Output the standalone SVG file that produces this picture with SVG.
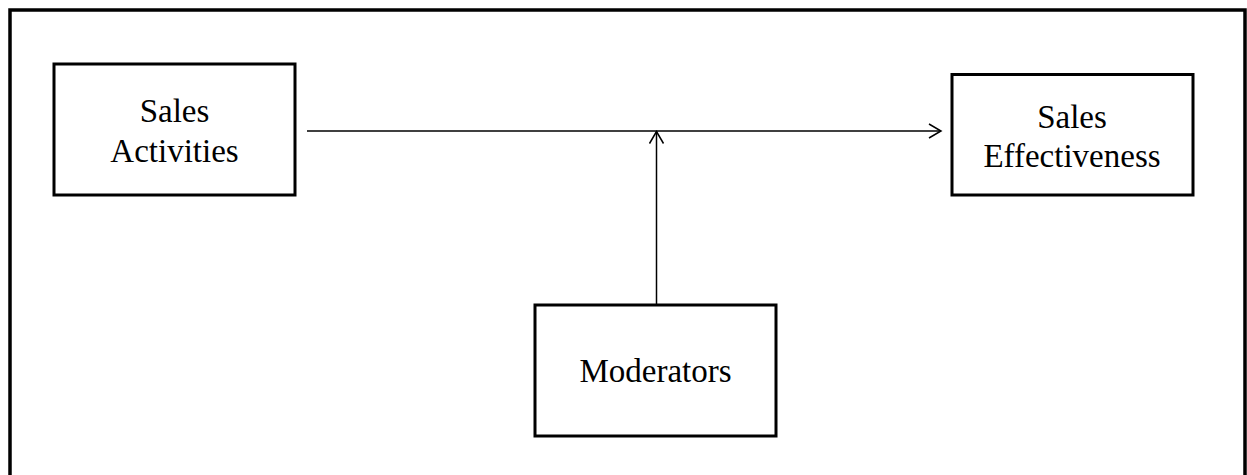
<svg xmlns="http://www.w3.org/2000/svg" width="1247" height="475" viewBox="0 0 1247 475">
<style>
.box{fill:#fff;stroke:#000;stroke-width:3}
.lbl{font-family:"Liberation Serif","Times New Roman",serif;font-size:33px;fill:#000;text-anchor:middle}
.conn{stroke:#000;stroke-width:1.5;fill:none}
</style>
<defs>
<marker id="arr" markerWidth="16" markerHeight="16" refX="13" refY="8" orient="auto" markerUnits="userSpaceOnUse">
<path d="M1,1 L13,8 L1,15" fill="none" stroke="#000" stroke-width="1.5"/>
</marker>
</defs>
<rect width="1247" height="475" fill="#fff"/>
<path d="M10,480 L10,10 L1245,10 L1245,480" fill="none" stroke="#000" stroke-width="3.5"/>
<g id="connectors">
<line class="conn" x1="307" y1="131" x2="941" y2="131" marker-end="url(#arr)"/>
<line class="conn" x1="656.5" y1="305" x2="656.5" y2="131.5" marker-end="url(#arr)"/>
</g>
<g id="sales-activities">
<rect class="box" x="54" y="64" width="241" height="131"/>
<text class="lbl" x="174.5" y="122">Sales</text>
<text class="lbl" x="174.5" y="162">Activities</text>
</g>
<g id="sales-effectiveness">
<rect class="box" x="952" y="74.5" width="241" height="120.5"/>
<text class="lbl" x="1072" y="128">Sales</text>
<text class="lbl" x="1072" y="166.5">Effectiveness</text>
</g>
<g id="moderators">
<rect class="box" x="535" y="305" width="241" height="131"/>
<text class="lbl" x="655.5" y="382">Moderators</text>
</g>
</svg>
